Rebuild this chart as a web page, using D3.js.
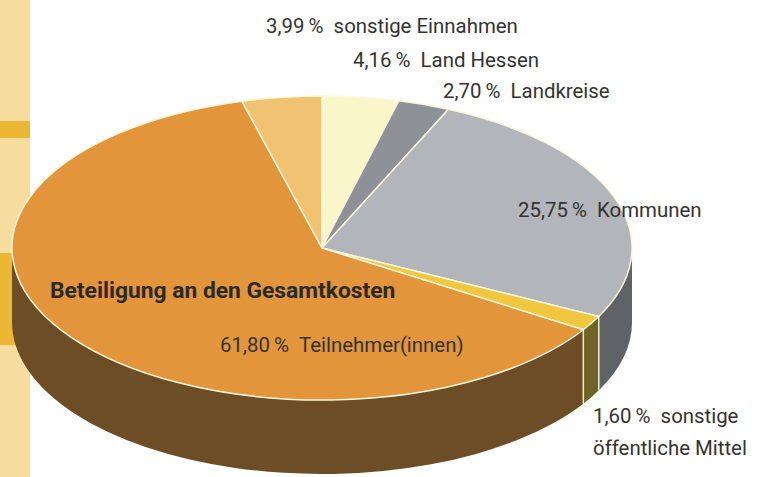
<!DOCTYPE html>
<html lang="de">
<head>
<meta charset="UTF-8">
<title>Beteiligung an den Gesamtkosten</title>
<script src="https://d3js.org/d3.v7.min.js"></script>
<style>
  body { margin: 0; background: #fff; }
  text { font-family: Roboto, "Liberation Sans", sans-serif; fill: #333; }
</style>
</head>
<body>
<script>
  // data, clockwise from 12 o'clock
  const categories = ['sonstige Einnahmen', 'Landkreise', 'Kommunen', 'sonstige öffentliche Mittel', 'Teilnehmer(innen)', 'Land Hessen'];
  const values = [3.99, 2.70, 25.75, 1.60, 61.80, 4.16];
  const topColors = ['#f9f6c9', '#8e9297', '#b2b5b9', '#f1c73f', '#e2953a', '#f0c372'];
  const sideColors = ['#7b7650', '#55595e', '#5f6368', '#6e6428', '#6c4d25', '#7a5f33'];
  const title = 'Beteiligung an den Gesamtkosten';

  const W = 767, H = 477;
  const cx = 322, cy = 248, rx = 310, ry = 152, depth = 74;

  const fmt = d3.formatLocale({ decimal: ',', thousands: '.', grouping: [3], currency: ['', ' €'] }).format('.2f');

  const svg = d3.select('body').append('svg').attr('width', W).attr('height', H);

  // left stripe
  svg.append('rect').attr('x', 0).attr('y', 0).attr('width', 30).attr('height', H).attr('fill', '#f6dc9e');
  svg.append('rect').attr('x', 0).attr('y', 121).attr('width', 30).attr('height', 17).attr('fill', '#ecb833');
  svg.append('rect').attr('x', 0).attr('y', 253).attr('width', 30).attr('height', 92).attr('fill', '#ecb833');

  const pie = d3.pie().sort(null).value(d => d);
  const arcs = pie(values);

  const pt = (a, dy) => [cx + rx * Math.sin(a), cy - ry * Math.cos(a) + (dy || 0)];

  // side walls, only the front half (pi/2 .. 3pi/2) is visible
  const sides = svg.append('g');
  arcs.forEach((d, i) => {
    const a0 = Math.max(d.startAngle, Math.PI / 2);
    const a1 = Math.min(d.endAngle, 3 * Math.PI / 2);
    if (a1 <= a0) return;
    const t0 = pt(a0), t1 = pt(a1), b1 = pt(a1, depth), b0 = pt(a0, depth);
    const s = `M${t0}A${rx},${ry} 0 0 1 ${t1}L${b1}A${rx},${ry} 0 0 0 ${b0}Z`;
    sides.append('path').attr('d', s).attr('fill', sideColors[i]);
    // light separator line on the wall
    if (d.startAngle > Math.PI / 2 && d.startAngle < 3 * Math.PI / 2) {
      sides.append('line')
        .attr('x1', t0[0]).attr('y1', t0[1]).attr('x2', b0[0]).attr('y2', b0[1])
        .attr('stroke', '#f3ecc4').attr('stroke-width', 1.5);
    }
  });

  // top surface: circular arcs squashed into an ellipse
  const arcGen = d3.arc().innerRadius(0).outerRadius(rx);
  svg.append('g')
    .attr('transform', `translate(${cx},${cy}) scale(1,${ry / rx})`)
    .selectAll('path')
    .data(arcs)
    .join('path')
    .attr('d', arcGen)
    .attr('fill', (d, i) => topColors[i])
    .attr('stroke', '#fdf6dc')
    .attr('stroke-width', 1.5)
    .attr('vector-effect', 'non-scaling-stroke')
    .attr('stroke-linejoin', 'round');

  // labels
  const labelPos = [[266, 33], [443, 98], [518, 217], [593, 423], [220, 352], [353, 67]];
  const lbl = svg.append('g').attr('font-size', 20.4);
  arcs.forEach((d, i) => {
    const [x, y] = labelPos[i];
    const name = categories[i];
    const t = lbl.append('text').attr('x', x).attr('y', y);
    if (name === 'sonstige öffentliche Mittel') {
      t.text(`${fmt(values[i])}\u2009%\u00a0\u00a0sonstige`);
      lbl.append('text').attr('x', x).attr('y', y + 32).text('öffentliche Mittel');
    } else {
      t.text(`${fmt(values[i])}\u2009%\u00a0\u00a0${name}`);
    }
  });

  svg.append('text')
    .attr('x', 50).attr('y', 298)
    .attr('font-size', 22.8)
    .attr('font-weight', 'bold')
    .style('fill', '#2a2a2a')
    .text(title);
</script>
</body>
</html>
